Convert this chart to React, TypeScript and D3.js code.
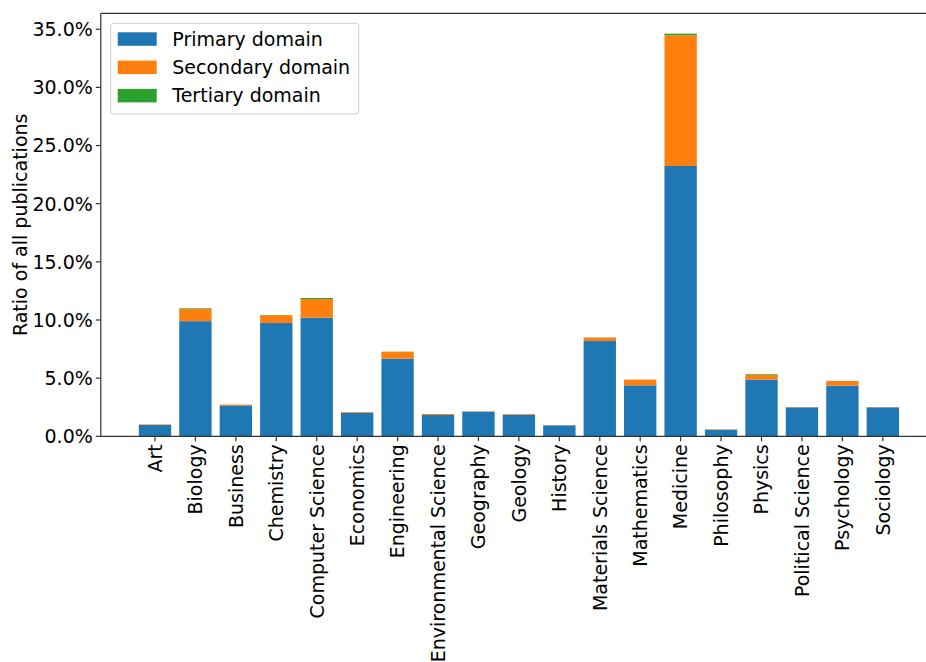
import React from "react";
import * as d3 from "d3";

const categories = ["Art", "Biology", "Business", "Chemistry", "Computer Science", "Economics", "Engineering", "Environmental Science", "Geography", "Geology", "History", "Materials Science", "Mathematics", "Medicine", "Philosophy", "Physics", "Political Science", "Psychology", "Sociology"];
const primary = [0.97, 9.9, 2.65, 9.74, 10.2, 2.03, 6.67, 1.83, 2.12, 1.86, 0.94, 8.19, 4.38, 23.24, 0.57, 4.87, 2.49, 4.35, 2.49];
const secondary = [0.05, 1.04, 0.08, 0.67, 1.6, 0.06, 0.6, 0.09, 0.03, 0.06, 0.02, 0.29, 0.49, 11.24, 0.03, 0.4, 0.03, 0.4, 0.02];
const tertiary = [0.0, 0.06, 0.0, 0.02, 0.09, 0.0, 0.01, 0.0, 0.0, 0.0, 0.0, 0.02, 0.01, 0.14, 0.0, 0.06, 0.0, 0.01, 0.0];
const seriesNames = ["Primary domain", "Secondary domain", "Tertiary domain"];
const colors = ["#1f77b4", "#ff7f0e", "#2ca02c"];
const yTicks = [0, 5, 10, 15, 20, 25, 30, 35];

export default function App() {
  const W = 926, H = 662;
  const left = 100.8, top = 13.3, bottom = 436.3;
  const x = d3.scaleLinear().domain([-1.34, 19.34]).range([left, 937]);
  const y = d3.scaleLinear().domain([0, 36.37]).range([bottom, top]);
  const bw = x(0.8) - x(0);
  const font = "DejaVu Sans";
  const fs = 19;
  const series = [primary, secondary, tertiary];
  const stacks: { i: number; s: number; y0: number; y1: number }[] = [];
  categories.forEach((_, i) => {
    let acc = 0;
    series.forEach((arr, s) => {
      stacks.push({ i, s, y0: acc, y1: acc + arr[i] });
      acc += arr[i];
    });
  });
  return (
    <svg width={W} height={H} style={{ position: "absolute", left: 0, top: 0, background: "#fff" }} fontFamily={font}>
      {stacks.filter(d => d.y1 > d.y0).map((d, k) => (
        <rect key={k} x={x(d.i) - bw / 2} width={bw} y={y(d.y1)} height={y(d.y0) - y(d.y1)} fill={colors[d.s]} />
      ))}
      <line x1={left} x2={left} y1={top} y2={bottom} stroke="#333" strokeWidth={1.2} />
      <line x1={left} x2={W} y1={bottom} y2={bottom} stroke="#333" strokeWidth={1.2} />
      <line x1={left} x2={W} y1={top} y2={top} stroke="#333" strokeWidth={1.2} />
      {yTicks.map(t => (
        <g key={t}>
          <line x1={left - 5} x2={left} y1={y(t)} y2={y(t)} stroke="#333" strokeWidth={1.2} />
          <text x={left - 8} y={y(t)} dy="0.36em" textAnchor="end" fontSize={fs} fill="#000">{t.toFixed(1) + "%"}</text>
        </g>
      ))}
      {categories.map((c, i) => (
        <g key={c}>
          <line x1={x(i)} x2={x(i)} y1={bottom} y2={bottom + 5} stroke="#333" strokeWidth={1.2} />
          <text transform={`translate(${x(i)},${bottom + 8}) rotate(-90)`} textAnchor="end" dy="0.36em" fontSize={fs} fill="#000">{c}</text>
        </g>
      ))}
      <text transform={`translate(20,${(top + bottom) / 2}) rotate(-90)`} textAnchor="middle" dy="0.36em" fontSize={fs} fill="#000">Ratio of all publications</text>
      <rect x={110.7} y={23.3} width={248} height={90.7} rx={3} fill="#fff" fillOpacity={0.8} stroke="#ccc" strokeWidth={1} />
      {seriesNames.map((n, k) => (
        <g key={n}>
          <rect x={117.7} y={32.3 + k * 28.3} width={39} height={13.5} fill={colors[k]} />
          <text x={172.3} y={39 + k * 28.3} dy="0.36em" fontSize={fs} fill="#000">{n}</text>
        </g>
      ))}
    </svg>
  );
}
